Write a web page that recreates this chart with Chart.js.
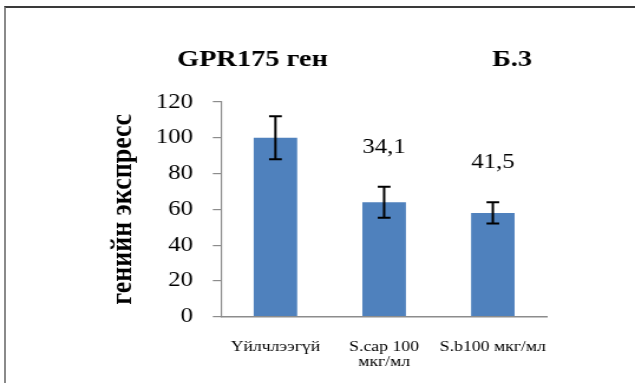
<!DOCTYPE html>
<html><head><meta charset="utf-8">
<script src="https://cdn.jsdelivr.net/npm/chart.js@4"></script>
<style>
html,body{margin:0;padding:0;background:#fff;}
#wrap{position:relative;width:635px;height:383px;overflow:hidden;background:#fff;}
#c{position:absolute;left:0;top:0;width:635px !important;height:383px !important;}
#frame{position:absolute;left:4px;top:6px;width:660px;height:420px;border-top:2px solid #3a3a3a;border-left:2px solid #8a8a8a;pointer-events:none;}
</style></head><body>
<div id="wrap"><canvas id="c" width="538" height="383" style="width:635px;height:383px"></canvas><div id="frame"></div></div>
<script>
const categories = ["Үйлчлээгүй", ["S.cap 100", "мкг/мл"], "S.b100 мкг/мл"];
const values = [100, 64, 58];
const errors = [12, 8.7, 5.9];
const annotations = ["", "34,1", "41,5"];
const yMin = 0, yMax = 120, yStep = 20;
const chartTitle = "GPR175 ген";
const panelLabel = "Б.3";
const yTitle = "генийн экспресс";

const SERIF = '"Liberation Serif", "Times New Roman", serif';

const extras = {
  id: 'extras',
  afterDatasetsDraw(chart) {
    const ctx = chart.ctx;
    const meta = chart.getDatasetMeta(0);
    const y = chart.scales.y;
    ctx.save();
    ctx.strokeStyle = '#000';
    ctx.lineWidth = 2;
    meta.data.forEach((bar, i) => {
      const x = bar.x;
      const yt = y.getPixelForValue(values[i] + errors[i]);
      const yb = y.getPixelForValue(values[i] - errors[i]);
      ctx.beginPath();
      ctx.moveTo(x, yt); ctx.lineTo(x, yb);
      ctx.moveTo(x - 5.4, yt); ctx.lineTo(x + 5.4, yt);
      ctx.moveTo(x - 5.4, yb); ctx.lineTo(x + 5.4, yb);
      ctx.stroke();
      if (annotations[i]) {
        ctx.fillStyle = '#000';
        ctx.font = '21px ' + SERIF;
        ctx.textAlign = 'center';
        ctx.textBaseline = 'alphabetic';
        ctx.fillText(annotations[i], x, yt - 34);
      }
    });
    ctx.fillStyle = '#000';
    ctx.font = 'bold 24px ' + SERIF;
    ctx.textAlign = 'left';
    ctx.textBaseline = 'alphabetic';
    ctx.fillText(chartTitle, 150, 66);
    ctx.fillText(panelLabel, 417, 66);
    ctx.restore();
  }
};

new Chart(document.getElementById('c'), {
  type: 'bar',
  data: {
    labels: categories,
    datasets: [{
      data: values,
      backgroundColor: '#4F81BD',
      borderWidth: 0,
      barPercentage: 0.4,
      categoryPercentage: 1.0
    }]
  },
  options: {
    responsive: false,
    animation: false,
    devicePixelRatio: 1,
    layout: { padding: { left: 88.4, top: 102, right: 74.4, bottom: 0 } },
    plugins: { legend: { display: false }, tooltip: { enabled: false } },
    scales: {
      x: {
        grid: { display: false, drawTicks: false },
        border: { display: true, color: '#8c8c8c', width: 1.5 },
        ticks: {
          color: '#000', padding: 22, maxRotation: 0, autoSkip: false,
          font: { family: SERIF, size: 15, lineHeight: 1.05 }
        },
        afterFit(s) { s.height = 66.3; }
      },
      y: {
        min: yMin, max: yMax,
        grid: { drawOnChartArea: false, drawTicks: true, tickLength: 7, color: '#8c8c8c', lineWidth: 1.2 },
        border: { display: true, color: '#8c8c8c', width: 1.2 },
        ticks: {
          stepSize: yStep, color: '#000', padding: 16.7,
          font: { family: SERIF, size: 21 }
        },
        title: {
          display: true, text: yTitle, color: '#000',
          padding: { top: 0, bottom: 0 },
          font: { family: SERIF, size: 26, weight: 'bold', lineHeight: 1.2 }
        },
        afterFit(s) { s.width = 98.9; }
      }
    }
  },
  plugins: [extras]
});
</script>
</body></html>
